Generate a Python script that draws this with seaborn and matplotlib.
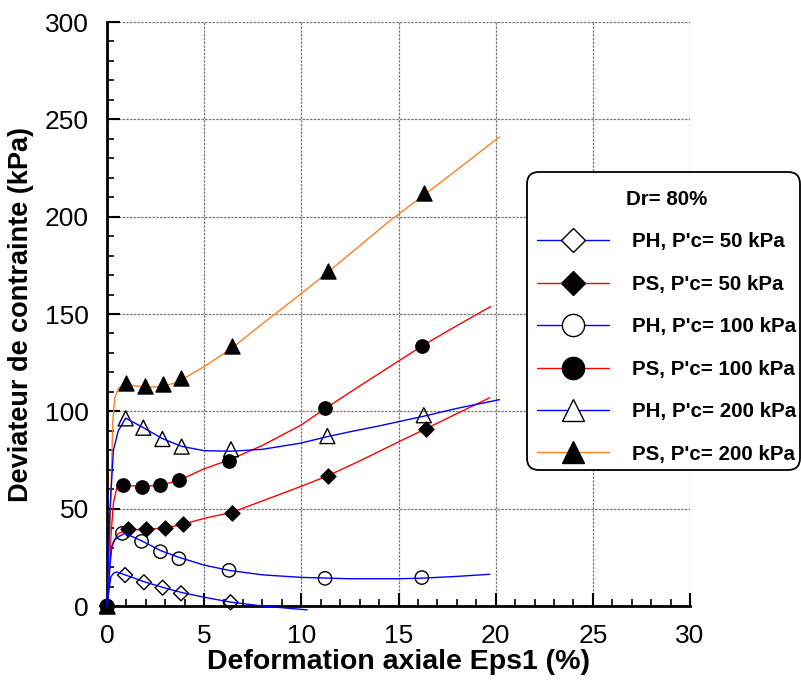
import matplotlib
matplotlib.use("Agg")
import matplotlib.pyplot as plt
import pandas as pd
import seaborn as sns
from matplotlib.lines import Line2D
from matplotlib.patches import FancyBboxPatch
from matplotlib.ticker import MultipleLocator

# ---- measured points (axial strain %, deviator stress kPa) ----
ph50_eps = [0, 0.93, 1.9, 2.86, 3.81, 6.36]
ph50_q = [0, 15.9, 12.2, 9.4, 6.5, 1.9]
ps50_eps = [0, 1.10, 2.0, 2.97, 3.91, 6.45, 11.39, 16.4]
ps50_q = [0, 39.4, 39.4, 39.9, 42.0, 48.0, 67.0, 91.0]
ph100_eps = [0, 0.79, 1.78, 2.75, 3.70, 6.28, 11.22, 16.2]
ph100_q = [0, 37.3, 33.2, 27.9, 24.3, 18.3, 14.2, 14.6]
ps100_eps = [0, 0.84, 1.78, 2.75, 3.70, 6.28, 11.24, 16.2]
ps100_q = [0, 62.1, 61.3, 62.1, 64.7, 74.6, 101.9, 133.7]
ph200_eps = [0, 0.96, 1.87, 2.85, 3.84, 6.38, 11.34, 16.3]
ph200_q = [0, 96.4, 91.6, 85.8, 81.9, 80.5, 87.3, 98.0]
ps200_eps = [0, 0.98, 1.96, 2.88, 3.81, 6.43, 11.37, 16.3]
ps200_q = [0, 114.5, 113.0, 114.0, 117.0, 133.5, 172.0, 212.0]

# ---- smoothed response curves ----
ph50_c_eps = [0, 0.1, 0.2, 0.33, 0.5, 0.93, 1.9, 2.86, 3.81, 5, 6.36, 8, 10.3]
ph50_c_q = [0, 8, 15, 16.8, 17.5, 16, 12.5, 9.6, 7, 4.5, 2, 0, -2]
ps50_c_eps = [0, 0.08, 0.15, 0.25, 0.33, 0.58, 1.1, 2, 2.97, 3.91, 5, 6.45, 8, 10,
              11.39, 13, 15, 16.4, 18, 19.7]
ps50_c_q = [0, 10, 23.6, 30, 33, 37.3, 39, 39.5, 40, 42, 45, 48.2, 54, 61.5,
            67, 74.5, 84.3, 91, 98.8, 107]
ph100_c_eps = [0, 0.08, 0.15, 0.24, 0.4, 0.58, 0.93, 1.78, 2.75, 3.7, 5, 6.28, 8, 10,
               12.5, 15, 16.2, 18, 19.7]
ph100_c_q = [0, 10, 20, 30.5, 34, 35.6, 37.3, 33.5, 28.5, 25, 21, 18.3, 16, 14.7,
             14, 14, 14.3, 15.2, 16.3]
ps100_c_eps = [0, 0.1, 0.2, 0.33, 0.5, 0.84, 1.78, 2.75, 3.7, 5, 6.28, 8, 10, 11.24,
               13, 15, 16.2, 18, 19.74]
ps100_c_q = [0, 15, 35.6, 52.8, 60.5, 62, 61.5, 62, 64.5, 70.5, 75, 82.5, 93, 101.5,
             113, 125.8, 133.5, 144, 153.8]
ph200_c_eps = [0, 0.08, 0.15, 0.33, 0.58, 0.96, 1.87, 2.85, 3.84, 5, 6.38, 8, 9.93,
               11.34, 12.5, 14, 16.3, 18, 20.2]
ph200_c_q = [0, 25, 49, 80, 90, 96.5, 91.6, 86, 82, 79.8, 79.5, 80.5, 83.6,
             87, 89.5, 92.5, 97.5, 101.5, 106]
ps200_c_eps = [0, 0.1, 0.2, 0.3, 0.4, 0.6, 0.98, 1.5, 1.96, 2.5, 2.88, 3.5, 3.81, 5,
               6.43, 8, 10, 11.37, 13, 14.5, 16.3, 18, 20.2]
ps200_c_q = [0, 20, 58, 95, 107, 112, 113.5, 113, 112.5, 112.5, 113, 114.5, 116, 123,
             132.5, 145, 160.5, 171.5, 185, 197.5, 211, 224, 241]

labels = ["PH, P'c= 50 kPa", "PS, P'c= 50 kPa", "PH, P'c= 100 kPa",
          "PS, P'c= 100 kPa", "PH, P'c= 200 kPa", "PS, P'c= 200 kPa"]

BLUE, RED, ORANGE = "#0000ff", "#ff0000", "#ff8020"
series = [
    (ph50_eps, ph50_q, ph50_c_eps, ph50_c_q, BLUE, "D", False),
    (ps50_eps, ps50_q, ps50_c_eps, ps50_c_q, RED, "D", True),
    (ph100_eps, ph100_q, ph100_c_eps, ph100_c_q, BLUE, "o", False),
    (ps100_eps, ps100_q, ps100_c_eps, ps100_c_q, RED, "o", True),
    (ph200_eps, ph200_q, ph200_c_eps, ph200_c_q, BLUE, "^", False),
    (ps200_eps, ps200_q, ps200_c_eps, ps200_c_q, ORANGE, "^", True),
]
# marker area for the plot (pt^2) and marker size in the legend (pt)
plot_area = {"D": 58, "o": 92, "^": 117}
legend_size = {"D": 12.2, "o": 16, "^": 15.4}

sns.set_theme(style="white")
plt.rcParams['font.family'] = ['Liberation Sans', 'DejaVu Sans']
plt.rcParams['text.color'] = 'black'
plt.rcParams['axes.labelcolor'] = 'black'
plt.rcParams['xtick.color'] = 'black'
plt.rcParams['ytick.color'] = 'black'

fig = plt.figure(figsize=(8.01, 6.86), dpi=100)
ax = fig.add_axes([107 / 801, 1 - 606 / 686, 583 / 801, 584 / 686])

handles = []
for (pe, pq, ce, cq, col, mk, filled), lab in zip(series, labels):
    curve = pd.DataFrame({"eps": ce, "q": cq})
    sns.lineplot(data=curve, x="eps", y="q", color=col, linewidth=1.0,
                 sort=False, estimator=None, ax=ax,
                 zorder=3 if filled else 5, clip_on=False)
    pts = pd.DataFrame({"eps": pe, "q": pq})
    sns.scatterplot(data=pts, x="eps", y="q", marker=mk, s=plot_area[mk],
                    facecolor="black" if filled else "none", edgecolor="black",
                    linewidth=1.0, ax=ax, zorder=4, clip_on=False)
    handles.append(Line2D([], [], color=col, linewidth=1.0, marker=mk,
                          markersize=legend_size[mk],
                          markerfacecolor="black" if filled else "white",
                          markeredgecolor="black", markeredgewidth=1.0, label=lab))

ax.set_xlim(0, 30)
ax.set_ylim(0, 300)
ax.xaxis.set_major_locator(MultipleLocator(5))
ax.xaxis.set_minor_locator(MultipleLocator(1))
ax.yaxis.set_major_locator(MultipleLocator(50))
ax.yaxis.set_minor_locator(MultipleLocator(10))
ax.grid(True, which="major", color="#777777", linestyle=(0, (2, 1)), linewidth=0.9)
ax.set_axisbelow(True)

for side in ("top", "right"):
    ax.spines[side].set_visible(False)
for side in ("left", "bottom"):
    ax.spines[side].set_color("black")
    ax.spines[side].set_linewidth(2.0)

ax.tick_params(which="major", direction="in", length=9.4, width=1.5,
               labelsize=19, labelcolor="black", pad=13, bottom=True, left=True)
ax.tick_params(which="minor", direction="in", length=4.7, width=1.2,
               bottom=True, left=True)

ax.set_xlabel("Deformation axiale Eps1 (%)", fontsize=20.5, fontweight="bold",
              labelpad=1)
ax.set_ylabel("Deviateur de contrainte (kPa)", fontsize=19.5, fontweight="bold",
              labelpad=8)

# rounded legend frame (pixel coordinates)
frame = FancyBboxPatch((527, 686 - 470), 273, 298, transform=None,
                       boxstyle="round,pad=0,rounding_size=12",
                       facecolor="white", edgecolor="black", linewidth=1.3,
                       zorder=4)
fig.patches.append(frame)

leg = fig.legend(handles=handles, loc="upper left",
                 bbox_to_anchor=(537 / 801, 1 - 190 / 686), borderaxespad=0,
                 title="Dr= 80%", title_fontproperties={"weight": "bold", "size": 14.8},
                 prop={"weight": "bold", "size": 14.8}, handlelength=3.5,
                 labelspacing=1.14, handletextpad=1.12, borderpad=0.0,
                 frameon=False)
leg.set_zorder(6)

fig.savefig("out.png", dpi=100)
